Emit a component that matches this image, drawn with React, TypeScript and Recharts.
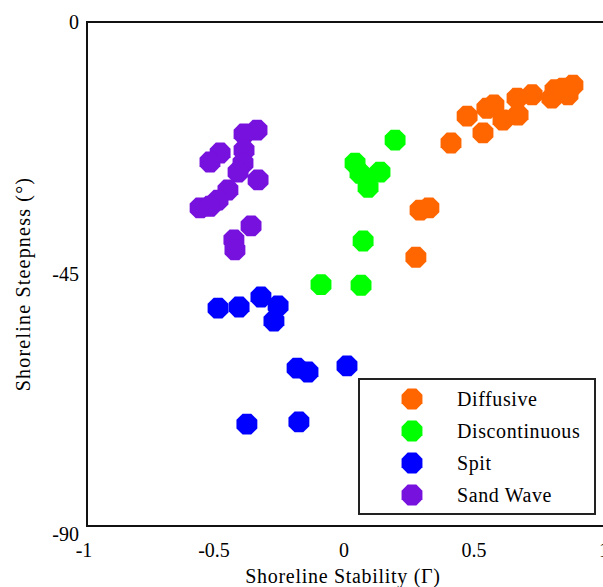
import { Legend, ReferenceArea, Scatter, ScatterChart, XAxis, YAxis } from 'recharts'

interface Pt {
  x: number
  y: number
}

// x = shoreline stability, y = shoreline steepness (deg)
const diffusive: Pt[] = [
  { x: 0.4, y: -21.6 },
  { x: 0.462, y: -16.8 },
  { x: 0.523, y: -19.8 },
  { x: 0.538, y: -15.4 },
  { x: 0.565, y: -14.8 },
  { x: 0.6, y: -17.5 },
  { x: 0.658, y: -16.6 },
  { x: 0.654, y: -13.6 },
  { x: 0.712, y: -13.0 },
  { x: 0.788, y: -13.6 },
  { x: 0.8, y: -12.1 },
  { x: 0.85, y: -13.0 },
  { x: 0.869, y: -11.3 },
  { x: 0.831, y: -11.8 },
  { x: 0.281, y: -33.6 },
  { x: 0.315, y: -33.2 },
  { x: 0.265, y: -42.0 },
]

const discontinuous: Pt[] = [
  { x: 0.185, y: -21.1 },
  { x: 0.031, y: -25.2 },
  { x: 0.05, y: -27.0 },
  { x: 0.127, y: -26.8 },
  { x: 0.081, y: -29.5 },
  { x: 0.062, y: -39.1 },
  { x: -0.1, y: -46.9 },
  { x: 0.054, y: -47.0 },
]

const spit: Pt[] = [
  { x: -0.496, y: -51.1 },
  { x: -0.415, y: -50.9 },
  { x: -0.331, y: -49.1 },
  { x: -0.265, y: -50.7 },
  { x: -0.281, y: -53.4 },
  { x: -0.192, y: -61.8 },
  { x: -0.15, y: -62.5 },
  { x: 0.0, y: -61.4 },
  { x: -0.385, y: -71.8 },
  { x: -0.185, y: -71.4 },
]

const sandWave: Pt[] = [
  { x: -0.346, y: -19.3 },
  { x: -0.396, y: -20.0 },
  { x: -0.396, y: -22.9 },
  { x: -0.4, y: -25.2 },
  { x: -0.488, y: -23.4 },
  { x: -0.527, y: -25.0 },
  { x: -0.419, y: -26.8 },
  { x: -0.342, y: -28.2 },
  { x: -0.458, y: -30.0 },
  { x: -0.496, y: -31.8 },
  { x: -0.565, y: -33.2 },
  { x: -0.527, y: -32.9 },
  { x: -0.369, y: -36.4 },
  { x: -0.435, y: -38.9 },
  { x: -0.431, y: -40.7 },
]

const seriesNames = ['Diffusive', 'Discontinuous', 'Spit', 'Sand Wave']
const xTicks = [-1, -0.5, 0, 0.5, 1]
const yTicks = [0, -45, -90]

const FONT = '"Times New Roman", "Liberation Serif", "DejaVu Serif", serif'

function octagonPoints(cx: number, cy: number, r: number) {
  const pts: string[] = []
  for (let k = 0; k < 8; k++) {
    const a = Math.PI / 8 + (k * Math.PI) / 4
    pts.push(`${cx + r * Math.cos(a)},${cy + r * Math.sin(a)}`)
  }
  return pts.join(' ')
}

function Octagon(props: any) {
  const { cx, cy, fill } = props
  if (cx == null || cy == null) return null
  return <polygon points={octagonPoints(cx, cy, 11.3)} fill={fill} />
}

function LegendBox({ payload }: any) {
  const items = [...(payload || [])].sort(
    (a: any, b: any) => seriesNames.indexOf(a.value) - seriesNames.indexOf(b.value),
  )
  return (
    <div
      style={{
        width: 238,
        height: 137,
        border: '2px solid #222',
        background: '#fff',
        fontFamily: FONT,
        fontSize: 20,
        letterSpacing: 0.6,
        paddingTop: 3,
        boxSizing: 'border-box',
      }}
    >
      {items.map((e: any) => (
        <div key={e.value} style={{ display: 'flex', alignItems: 'center', height: 32 }}>
          <svg width={97} height={32}>
            <polygon points={octagonPoints(52, 16, 11.3)} fill={e.color} />
          </svg>
          <span>{e.value}</span>
        </div>
      ))}
    </div>
  )
}

function YTick(props: any) {
  const { x, y, payload } = props
  const shift = payload.value === -90 ? 8 : 0
  return (
    <text x={x} y={y + shift} dy="0.35em" textAnchor="end" fontFamily={FONT} fontSize={20} fill="#000">
      {payload.value}
    </text>
  )
}

function XTick(props: any) {
  const { x, y, payload } = props
  return (
    <text x={x - 3} y={y} dy="0.71em" textAnchor="middle" fontFamily={FONT} fontSize={20} fill="#000">
      {payload.value}
    </text>
  )
}

export default function App() {
  return (
    <div style={{ position: 'absolute', left: 0, top: 0, width: 603, height: 587, overflow: 'hidden', background: '#fff' }}>
      <ScatterChart width={615} height={587} margin={{ top: 22, right: 8, bottom: 0, left: 0 }}>
        <XAxis
          type="number"
          dataKey="x"
          domain={[-1, 1]}
          ticks={xTicks}
          axisLine={false}
          tickLine={false}
          tickMargin={11}
          height={61}
          tick={<XTick />}
          label={({ viewBox }: any) => (
            <text
              x={viewBox.x + viewBox.width / 2 - 4}
              y={viewBox.y + viewBox.height - 4}
              textAnchor="middle"
              fontFamily={FONT}
              fontSize={20}
              letterSpacing={0.7}
              fill="#000"
            >
              Shoreline Stability (Γ)
            </text>
          )}
        />
        <YAxis
          type="number"
          dataKey="y"
          domain={[-90, 0]}
          ticks={yTicks}
          axisLine={false}
          tickLine={false}
          width={87}
          tick={<YTick />}
          label={({ viewBox }: any) => {
            const cx = 23
            const cy = viewBox.y + viewBox.height / 2 + 10
            return (
              <text
                x={cx}
                y={cy}
                transform={`rotate(-90 ${cx} ${cy})`}
                textAnchor="middle"
                dominantBaseline="central"
                fontFamily={FONT}
                fontSize={20}
                letterSpacing={1.2}
                fill="#000"
              >
                Shoreline Steepness (°)
              </text>
            )
          }}
        />
        <ReferenceArea x1={-1} x2={1} y1={-90} y2={0} fill="none" stroke="#111" strokeWidth={2} />
        <Scatter name="Diffusive" data={diffusive} fill="#ff6600" shape={<Octagon />} isAnimationActive={false} />
        <Scatter name="Discontinuous" data={discontinuous} fill="#00ff00" shape={<Octagon />} isAnimationActive={false} />
        <Scatter name="Spit" data={spit} fill="#0000ff" shape={<Octagon />} isAnimationActive={false} />
        <Scatter name="Sand Wave" data={sandWave} fill="#7711dd" shape={<Octagon />} isAnimationActive={false} />
        <Legend
          layout="vertical"
          align="center"
          verticalAlign="middle"
          content={<LegendBox />}
          wrapperStyle={{ left: 358, top: 378, width: 238, height: 137 }}
        />
      </ScatterChart>
    </div>
  )
}
